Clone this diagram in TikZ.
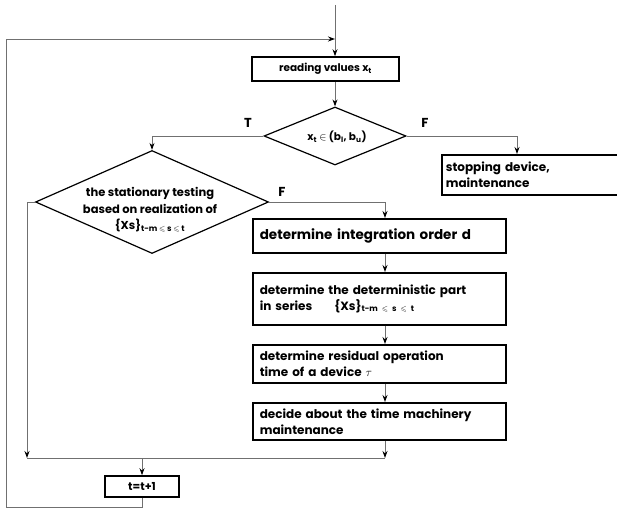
\documentclass[tikz,border=0pt]{standalone}
\usepackage{amssymb}
\usepackage{fontspec}
\setmainfont{Poppins}
\usetikzlibrary{arrows.meta,shapes.geometric}
\definecolor{linie}{HTML}{707070}
\tikzset{
  box/.style={draw,black,line width=1.6pt,inner xsep=7pt,inner ysep=0pt,align=left,font=\bfseries\fontsize{12}{16}\selectfont},
  stepbox/.style={box,anchor=north west,text width=239pt,minimum height=#1},
  dec/.style={diamond,draw,black,line width=1.2pt,inner sep=0pt},
  dectext/.style={align=center,inner sep=0pt,font=\bfseries\fontsize{11.5}{16.5}\selectfont},
  con/.style={linie,line width=0.9pt},
  arr/.style={con,-{Stealth[length=7pt,width=5pt,black]}},
  lab/.style={font=\bfseries\fontsize{13}{13}\selectfont},
}
\begin{document}
\begin{tikzpicture}[x=1pt,y=-1pt]
  \useasboundingbox (0,0) rectangle (617,508);
  % Eingang und Schleife
  \coordinate (in) at (335,5);
  \coordinate (col) at (385,0);
  \node[box,minimum width=147pt,minimum height=24pt,align=center,font=\bfseries\fontsize{10.5}{12}\selectfont] (read) at (325.5,69) {reading values x\textsubscript{t}};
  \node[dec,minimum width=142pt,minimum height=58pt] (test) at (335,136) {};
  \node[dectext,font=\bfseries\fontsize{10.5}{12}\selectfont] (testtext) at (337,137) {x\textsubscript{t} $\in$ (b\textsubscript{l}, b\textsubscript{u})};
  \node[dec,minimum width=233pt,minimum height=103pt] (stat) at (152,202) {};
  \node[dectext] (stattext) at (150,210)
    {the stationary testing\\based on realization of\\\{Xs\}\textsubscript{t-m $\leqslant$ s $\leqslant$ t}};
  \node[box,anchor=north west,text width=172pt,minimum height=40pt,inner xsep=4pt] (stop) at (441,154)
    {stopping device,\\maintenance};
  % Hauptzweig
  \node[stepbox=34pt,font=\bfseries\fontsize{13.5}{16}\selectfont] (order) at (252,218) {determine integration order d};
  \node[stepbox=52pt] (serie) at (252,272) {determine the deterministic part\\in series\hspace{22pt}\{Xs\}\textsubscript{t-m $\leqslant$ s $\leqslant$ t}};
  \node[stepbox=38pt] (resid) at (252,344) {determine residual operation\\time of a device $\tau$};
  \node[stepbox=37pt] (decide) at (252,402) {decide about the time machinery\\maintenance};
  \node[box,minimum width=74pt,minimum height=21pt,align=center,font=\bfseries\fontsize{11}{11}\selectfont] (tinc) at (142,486.5) {t=t+1};
  % Verbindungen
  \draw[arr] (in) -- (in |- read.north);
  \draw[arr] (in |- read.south) -- (test.north);
  \draw[arr] (test.west) -| (stat.north);
  \coordinate (fstop) at (517,136);
  \draw[arr] (test.east) -- (fstop) -- (fstop |- stop.north);
  \draw[arr] (stat.east) -| (col |- order.north);
  \draw[arr] (col |- order.south) -- (col |- serie.north);
  \draw[arr] (col |- serie.south) -- (col |- resid.north);
  \draw[arr] (col |- resid.south) -- (col |- decide.north);
  \coordinate (mleft) at (27,458);
  \coordinate (mright) at (385,458);
  \draw[arr] (col |- decide.south) -- (mright);
  \draw[arr] (stat.west) -| (mleft);
  \draw[con] (mleft) -- (mright);
  \draw[arr] (tinc.north |- mleft) -- (tinc.north);
  \coordinate (lbot) at (6,507);
  \draw[arr] (tinc.south) |- (lbot) |- (in |- 0,39);
  % Beschriftungen
  \node[lab] (ltrue) at (248,123) {T};
  \node[lab] (lfalse) at (425,123) {F};
  \node[lab] (lfalse2) at (282,192) {F};
\end{tikzpicture}
\end{document}
